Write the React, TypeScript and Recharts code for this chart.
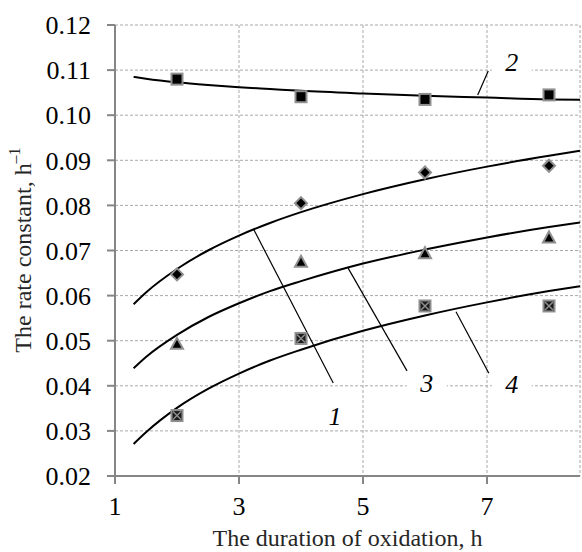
import React from "react";
import {
  ComposedChart,
  Line,
  Scatter,
  XAxis,
  YAxis,
  CartesianGrid,
  ReferenceLine,
  ReferenceDot,
} from "recharts";

// fitted curves
const CURVE_X = [1.3, 1.5, 2, 2.5, 3, 3.5, 4, 5, 6, 7, 8, 8.5];
const CURVE_1 = [0.0581, 0.0607, 0.0659, 0.07, 0.0733, 0.0761, 0.0785, 0.0825, 0.0858, 0.0886, 0.091, 0.0921];
const CURVE_2 = [0.1085, 0.1081, 0.1073, 0.1067, 0.1062, 0.1058, 0.1054, 0.1048, 0.1043, 0.1039, 0.1035, 0.1034];
const CURVE_3 = [0.0439, 0.0464, 0.0513, 0.0552, 0.0583, 0.061, 0.0632, 0.0671, 0.0702, 0.0729, 0.0752, 0.0762];
const CURVE_4 = [0.0271, 0.0297, 0.0351, 0.0393, 0.0427, 0.0456, 0.048, 0.0522, 0.0556, 0.0585, 0.061, 0.0621];

// measured points
const POINT_X = [2, 4, 6, 8];
const K1 = [0.0647, 0.0805, 0.0873, 0.0888];
const K2 = [0.108, 0.1041, 0.1035, 0.1045];
const K3 = [0.0493, 0.0675, 0.0694, 0.0729];
const K4 = [0.0334, 0.0505, 0.0577, 0.0577];

const X_TICKS = [1, 3, 5, 7];
const Y_TICKS = [0.02, 0.03, 0.04, 0.05, 0.06, 0.07, 0.08, 0.09, 0.1, 0.11, 0.12];

// curve numbers and their leader lines
const LABELS = [
  { text: "1", x: 4.55, y: 0.0331 },
  { text: "2", x: 7.4, y: 0.1116 },
  { text: "3", x: 6.03, y: 0.0406 },
  { text: "4", x: 7.4, y: 0.0402 },
];
const LEADERS = [
  [{ x: 3.24, y: 0.0746 }, { x: 4.52, y: 0.0406 }],
  [{ x: 7.02, y: 0.1098 }, { x: 6.85, y: 0.1045 }],
  [{ x: 4.76, y: 0.0661 }, { x: 5.71, y: 0.0433 }],
  [{ x: 6.5, y: 0.0564 }, { x: 7.03, y: 0.0428 }],
];

const curves = CURVE_X.map((x, i) => ({
  x,
  c1: CURVE_1[i],
  c2: CURVE_2[i],
  c3: CURVE_3[i],
  c4: CURVE_4[i],
}));
const pts = (ys: number[]) => POINT_X.map((x, i) => ({ x, y: ys[i] }));

const FONT = '"Liberation Serif", "Times New Roman", serif';
const AXIS = "#868686";
const EDGE = "#8f8f8f";

const Square = (p: any) => (
  <rect x={p.cx - 5.5} y={p.cy - 5.5} width={11} height={11} fill="#000" stroke={EDGE} strokeWidth={2} />
);
const Diamond = (p: any) => (
  <path
    d={`M${p.cx},${p.cy - 6} L${p.cx + 6},${p.cy} L${p.cx},${p.cy + 6} L${p.cx - 6},${p.cy} Z`}
    fill="#000"
    stroke={EDGE}
    strokeWidth={2}
  />
);
const Triangle = (p: any) => (
  <path
    d={`M${p.cx},${p.cy - 6} L${p.cx + 6},${p.cy + 5} L${p.cx - 6},${p.cy + 5} Z`}
    fill="#000"
    stroke={EDGE}
    strokeWidth={2}
  />
);
const CrossSquare = (p: any) => (
  <g>
    <rect x={p.cx - 5.5} y={p.cy - 5.5} width={11} height={11} fill="#1a1a1a" stroke={EDGE} strokeWidth={2} />
    <path
      d={`M${p.cx - 4},${p.cy - 4} L${p.cx + 4},${p.cy + 4} M${p.cx + 4},${p.cy - 4} L${p.cx - 4},${p.cy + 4}`}
      stroke={EDGE}
      strokeWidth={1.5}
    />
  </g>
);

const CurveLabel = (text: string) => (p: any) => (
  <g>
    <rect x={p.cx - 20} y={p.cy - 10} width={40} height={20} fill="#fff" />
    <text
      x={p.cx}
      y={p.cy}
      textAnchor="middle"
      dominantBaseline="central"
      fontFamily={FONT}
      fontStyle="italic"
      fontSize={26}
      fill="#000"
    >
      {text}
    </text>
  </g>
);

export default function App() {
  return (
    <div style={{ position: "absolute", left: 0, top: 0, width: 582, height: 552, background: "#fff" }}>
      <ComposedChart width={582} height={552} margin={{ top: 25, right: 2, left: 0, bottom: 0 }}>
        <CartesianGrid stroke="#a8a8a8" strokeDasharray="3 2" />
        <XAxis
          type="number"
          dataKey="x"
          domain={[1, 8.5]}
          ticks={X_TICKS}
          allowDataOverflow
          height={76}
          stroke={AXIS}
          strokeWidth={2}
          tickSize={8}
          tickMargin={13}
          tick={{ fill: "#000", fontSize: 26, fontFamily: FONT }}
          label={{
            value: "The duration of oxidation, h",
            position: "insideBottom",
            offset: 6,
            fill: "#262626",
            fontSize: 24,
            fontFamily: FONT,
          }}
        />
        <YAxis
          type="number"
          domain={[0.02, 0.12]}
          ticks={Y_TICKS}
          allowDataOverflow
          width={115}
          stroke={AXIS}
          strokeWidth={2}
          tickSize={8}
          tickMargin={16}
          tickFormatter={(v: number) => v.toFixed(2)}
          tick={{ fill: "#000", fontSize: 26, fontFamily: FONT }}
          label={{
            content: () => (
              <text
                x={23}
                y={250}
                transform="rotate(-90 23 250)"
                textAnchor="middle"
                dominantBaseline="central"
                fontFamily={FONT}
                fontSize={24}
                fill="#262626"
              >
                The rate constant, h
                <tspan dy={-9} fontSize={16}>
                  –1
                </tspan>
              </text>
            ),
          }}
        />
        {LEADERS.map((seg, i) => (
          <ReferenceLine key={`l${i}`} segment={seg} stroke="#000" strokeWidth={1.2} />
        ))}
        {LABELS.map((l) => (
          <ReferenceDot key={`t${l.text}`} x={l.x} y={l.y} r={0} shape={CurveLabel(l.text)} />
        ))}
        <Line data={curves} dataKey="c1" type="monotone" stroke="#000" strokeWidth={2} dot={false} isAnimationActive={false} />
        <Line data={curves} dataKey="c2" type="monotone" stroke="#000" strokeWidth={2} dot={false} isAnimationActive={false} />
        <Line data={curves} dataKey="c3" type="monotone" stroke="#000" strokeWidth={2} dot={false} isAnimationActive={false} />
        <Line data={curves} dataKey="c4" type="monotone" stroke="#000" strokeWidth={2} dot={false} isAnimationActive={false} />
        <Scatter data={pts(K1)} dataKey="y" shape={Diamond} isAnimationActive={false} />
        <Scatter data={pts(K2)} dataKey="y" shape={Square} isAnimationActive={false} />
        <Scatter data={pts(K3)} dataKey="y" shape={Triangle} isAnimationActive={false} />
        <Scatter data={pts(K4)} dataKey="y" shape={CrossSquare} isAnimationActive={false} />
      </ComposedChart>
    </div>
  );
}
